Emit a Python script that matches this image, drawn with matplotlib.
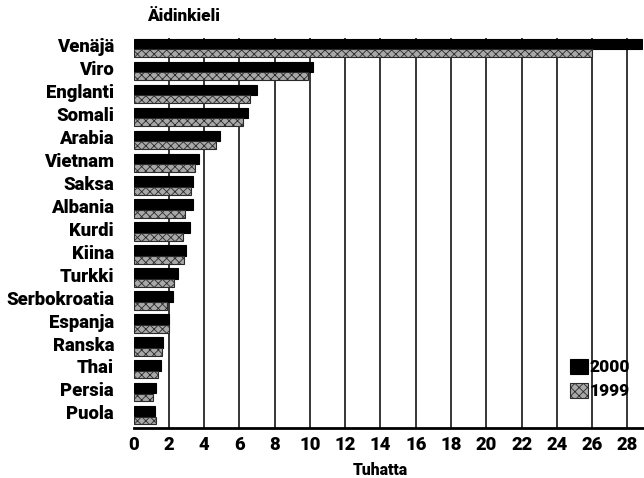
import numpy as np
import matplotlib
matplotlib.use('Agg')
import matplotlib.pyplot as plt
from matplotlib.transforms import ScaledTranslation

# DATA (thousands of speakers)
languages = ['Venäjä', 'Viro', 'Englanti', 'Somali', 'Arabia', 'Vietnam', 'Saksa',
             'Albania', 'Kurdi', 'Kiina', 'Turkki', 'Serbokroatia', 'Espanja',
             'Ranska', 'Thai', 'Persia', 'Puola']
values_2000 = [28.8, 10.2, 7.0, 6.5, 4.9, 3.7, 3.4, 3.4, 3.2, 3.0, 2.5, 2.25, 2.0,
               1.7, 1.55, 1.25, 1.2]
values_1999 = [26.0, 9.9, 6.6, 6.2, 4.7, 3.5, 3.25, 2.9, 2.8, 2.85, 2.3, 1.9, 2.0,
               1.6, 1.4, 1.1, 1.25]
xticks = list(range(0, 29, 2))

plt.rcParams['font.family'] = ['Roboto', 'DejaVu Sans']
plt.rcParams['hatch.linewidth'] = 0.6
W = 'heavy'

fig = plt.figure(figsize=(6.44, 4.78), dpi=100)
ax = fig.add_axes([0.2073, 0.1046, 0.7917, 0.8159])

y = np.arange(len(languages))

# vertical grid lines
for t in xticks[1:]:
    ax.axvline(t, color='black', lw=1.1, zorder=1)

ax.barh(y - 0.235, values_2000, height=0.46, color='black', edgecolor='black',
        lw=0.8, label='2000', zorder=3)
ax.barh(y + 0.17, values_1999, height=0.34, color='#a8a8a8', edgecolor='#2a2a2a',
        hatch='xxxx', lw=0.8, label='1999', zorder=3)

ax.set_xlim(0, 28.9)
ax.set_ylim(len(languages) - 0.5, -0.5)
ax.set_yticks(y)
ax.set_yticklabels(languages, fontsize=13.3, fontweight=W)
ax.set_xticks(xticks)
ax.set_xticklabels([str(t) for t in xticks], fontsize=13.3, fontweight=W)
ax.tick_params(axis='y', length=0, pad=14)
ax.tick_params(axis='x', length=0, pad=6)
# labels sit a little above the bar pair centres
shift = ScaledTranslation(0, 3 / 72, fig.dpi_scale_trans)
for lbl in ax.get_yticklabels():
    lbl.set_transform(lbl.get_transform() + shift)

for s in ['top', 'right', 'left']:
    ax.spines[s].set_visible(False)
ax.spines['bottom'].set_linewidth(2)
ax.spines['bottom'].set_zorder(4)

fig.text(0.228, 0.967, 'Äidinkieli', fontsize=12.3, fontweight=W, va='center', ha='left')
fig.text(0.59, 0.017, 'Tuhatta', fontsize=11.3, fontweight=W, va='center', ha='center')

leg = ax.legend(loc='center', bbox_to_anchor=(0.915, 0.125), frameon=False,
                fontsize=12.5, handlelength=1.0, handleheight=0.9, handletextpad=0.1,
                labelspacing=0.45, borderpad=0)
for txt in leg.get_texts():
    txt.set_fontweight(W)

fig.savefig('out.png', dpi=100)
